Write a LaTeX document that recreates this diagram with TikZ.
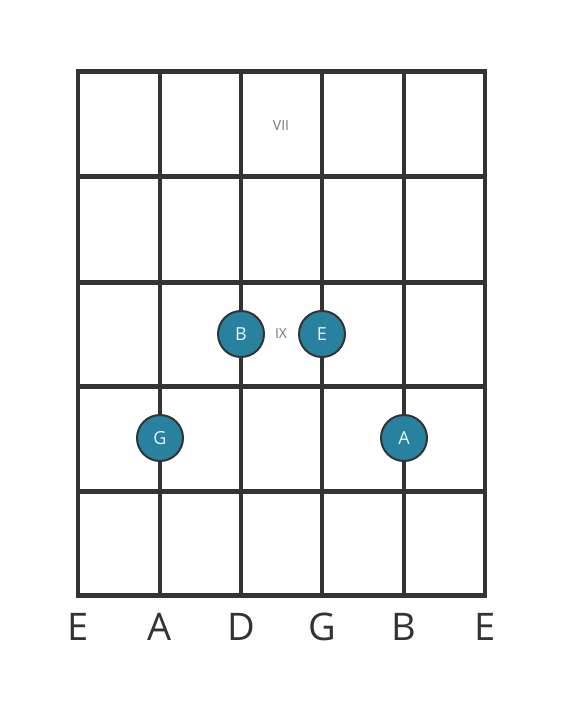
\documentclass[tikz,border=0pt]{standalone}
\usepackage{fontspec}
\setmainfont{Open Sans}
\definecolor{gridc}{HTML}{333333}
\definecolor{dotc}{HTML}{28819E}
\definecolor{dottext}{HTML}{E4F6FB}
\definecolor{fretlbl}{HTML}{777777}
\begin{document}
\begin{tikzpicture}[x=1pt,y=-1pt,
  fret/.style={draw=gridc,line width=5pt},
  stringl/.style={draw=gridc,line width=3.2pt},
  notedot/.style={circle,fill=dotc,draw=gridc,line width=2pt,minimum size=46pt,inner sep=0pt,text=dottext,font=\fontsize{18}{18}\selectfont},
  strname/.style={text=gridc,font=\fontsize{38}{38}\selectfont,inner sep=0pt},
  fretnum/.style={text=fretlbl,font=\fontsize{14}{14}\selectfont,inner sep=0pt}]
\useasboundingbox (0,0) rectangle (566,711);
\fill[white] (0,0) rectangle (566,711);
% strings
\foreach \x/\n in {78/s1,160/s2,241/s3,322/s4,404/s5,485/s6}{
  \coordinate (\n t) at (\x,72);
  \coordinate (\n b) at (\x,595);
  \draw[stringl] (\n t) -- (\n b);
}
% frets
\foreach \y/\n in {72/f0,177/f1,282/f2,386/f3,491/f4,595/f5}{
  \coordinate (\n l) at (76.4,\y);
  \coordinate (\n r) at (486.6,\y);
  \draw[fret] (\n l) -- (\n r);
}
\node[fretnum] (vii) at (281,126) {VII};
\node[fretnum] (ix) at (281,334) {IX};
\node[notedot] (dB) at (241,334) {B};
\node[notedot] (dE) at (322,334) {E};
\node[notedot] (dG) at (160,438) {G};
\node[notedot] (dA) at (404,438) {A};
\foreach \x/\t/\n in {78/E/l1,160/A/l2,241/D/l3,322/G/l4,404/B/l5,485/E/l6}{
  \node[strname] (\n) at (\x,627) {\t};
}
\end{tikzpicture}
\end{document}
